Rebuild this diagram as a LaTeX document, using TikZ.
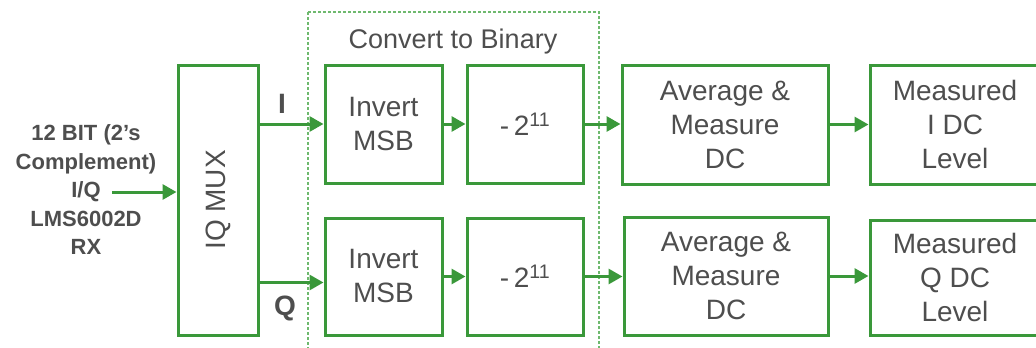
\documentclass[tikz,border=0pt]{standalone}
\usepackage{fontspec}
\setmainfont{Liberation Sans}
\usetikzlibrary{arrows.meta}
\definecolor{blockgreen}{RGB}{58,152,58}
\definecolor{groupgreen}{RGB}{110,185,110}
\definecolor{labelgray}{RGB}{78,78,78}
\tikzset{
  block/.style={draw=blockgreen, line width=3pt, inner sep=0pt, align=center,
    text=labelgray, font=\fontsize{28}{34}\selectfont},
  flow/.style={draw=blockgreen, line width=3pt, -{Triangle[length=14pt,width=15pt]}},
  chlabel/.style={text=labelgray, font=\fontsize{28}{32}\selectfont\bfseries},
}
\begin{document}
\begin{tikzpicture}[x=1pt,y=-1pt]
\useasboundingbox (0,0) rectangle (1036,348);

% convert to binary group
\draw[groupgreen, line width=1.3pt, dash pattern=on 3pt off 2pt] (308,12) rectangle (599,360);
\node[text=labelgray, font=\fontsize{27}{32}\selectfont] (convlbl) at (453,42) {Convert to Binary};

% source and mux
\node[text=labelgray, align=center, font=\fontsize{22}{28.5}\selectfont\bfseries] (src) at (86,190)
  {12 BIT (2’s\\Complement)\\I/Q\\LMS6002D\\RX};
\coordinate (inq) at (112,192);
\node[block, minimum width=80pt, minimum height=270pt] (mux) at (218,200) {\rotatebox{90}{IQ MUX}};

% I path
\node[block, minimum width=117pt, minimum height=118pt] (invI) at (383.5,124) {Invert\\MSB};
\node[block, minimum width=116pt, minimum height=118pt] (subI) at (525,124) {-\,2\textsuperscript{11}};
\node[block, minimum width=206pt, minimum height=119pt] (avgI) at (725,124.5) {Average \&\\Measure\\DC};
\node[block, minimum width=170pt, minimum height=119pt] (measI) at (955,124.5) {Measured\\I DC\\Level};

% Q path
\node[block, minimum width=117pt, minimum height=117pt] (invQ) at (383.5,276.5) {Invert\\MSB};
\node[block, minimum width=116pt, minimum height=117pt] (subQ) at (525,276.5) {-\,2\textsuperscript{11}};
\node[block, minimum width=204pt, minimum height=118pt] (avgQ) at (726,276) {Average \&\\Measure\\DC};
\node[block, minimum width=170pt, minimum height=115pt] (measQ) at (955,277.5) {Measured\\Q DC\\Level};

\node[chlabel] (ilbl) at (282,104) {I};
\node[chlabel] (qlbl) at (285,308) {Q};

% connectors
\coordinate (qin) at ([yshift=-6pt]invQ.west);
\draw[flow] (inq) -- (mux.west |- inq);
\draw[flow] (mux.east |- invI) -- (invI.west);
\draw[flow] (mux.east |- qin) -- (qin);
\draw[flow] (invI) -- (subI);
\draw[flow] (invQ) -- (subQ);
\draw[flow] (subI) -- (avgI.west |- subI);
\draw[flow] (subQ) -- (avgQ.west |- subQ);
\draw[flow] (avgI) -- (measI.west |- avgI);
\draw[flow] (avgQ) -- (measQ.west |- avgQ);
\end{tikzpicture}
\end{document}
